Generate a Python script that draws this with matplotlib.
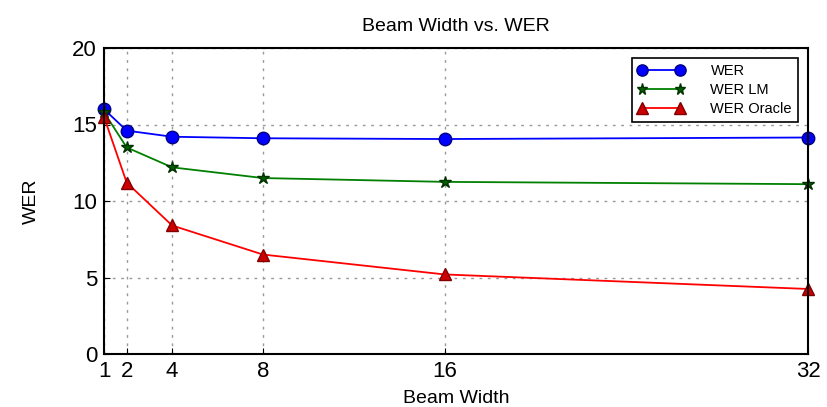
import matplotlib
matplotlib.use('Agg')
import matplotlib.pyplot as plt

plt.rcParams['font.family'] = ['Liberation Sans', 'DejaVu Sans']

beam = [1, 2, 4, 8, 16, 32]
wer = [16.0, 14.6, 14.2, 14.1, 14.05, 14.15]
wer_lm = [15.8, 13.5, 12.2, 11.5, 11.25, 11.1]
wer_oracle = [15.5, 11.2, 8.4, 6.5, 5.2, 4.25]
x_ticks = [1, 2, 4, 8, 16, 32]
y_ticks = [0, 5, 10, 15, 20]

fig = plt.figure(figsize=(8.27, 4.07), dpi=100)
ax = fig.add_axes([104 / 827, 1 - 354 / 407, (808 - 104) / 827, (354 - 48) / 407])

ax.plot(beam, wer, '-o', color='blue', markerfacecolor='blue', markeredgecolor='#000080',
        markersize=9, linewidth=1.3, label='WER', clip_on=False)
ax.plot(beam, wer_lm, '-*', color='green', markerfacecolor='#006000', markeredgecolor='#003300',
        markersize=9, linewidth=1.3, label='WER LM', clip_on=False)
ax.plot(beam, wer_oracle, '-^', color='red', markerfacecolor='#cc0000', markeredgecolor='#800000',
        markersize=9, linewidth=1.3, label='WER Oracle', clip_on=False)

ax.set_xlim(1, 32)
ax.set_ylim(0, 20)
ax.set_xticks(x_ticks)
ax.set_yticks(y_ticks)
ax.tick_params(direction='in', labelsize=16, length=4, pad=5)
ax.grid(True, linestyle=(0, (2, 4)), color='#999999', linewidth=1)
for s in ax.spines.values():
    s.set_linewidth(1.5)

ax.set_title('Beam Width vs. WER', fontsize=14, pad=12)
ax.set_xlabel('Beam Width', fontsize=14, labelpad=6)
ax.set_ylabel('WER', fontsize=14, labelpad=23)

leg = ax.legend(loc='upper right', fontsize=10.5, fancybox=False, framealpha=1,
                edgecolor='black', borderaxespad=0.7, handlelength=3.2, numpoints=2,
                markerscale=0.9, labelspacing=0.35, borderpad=0.4, handletextpad=1.8)
leg.get_frame().set_linewidth(1.2)

fig.savefig('out.png', dpi=100)
